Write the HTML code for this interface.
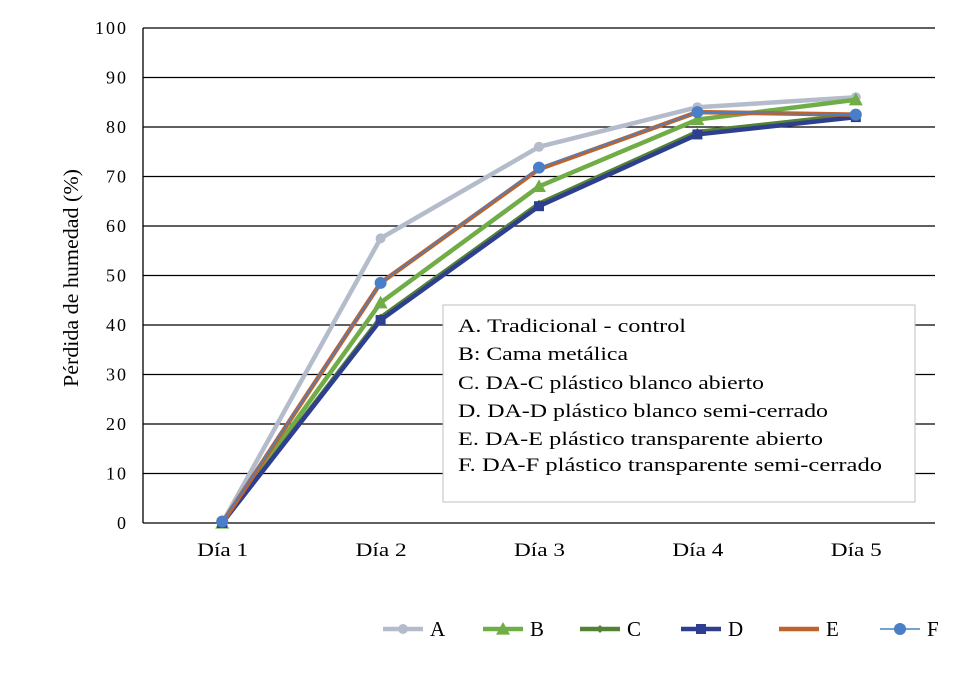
<!DOCTYPE html>
<html><head><meta charset="utf-8"><style>
body{margin:0;background:#fff}
svg text{font-family:"Liberation Serif",serif;fill:#000}
</style></head><body>
<svg id="chart" width="980" height="684" viewBox="0 0 980 684">
<g id="grid"></g>
<g id="yticks"></g>
<g id="xticks"></g>
<text transform="translate(78,278) rotate(-90)" text-anchor="middle" font-size="21" textLength="218" lengthAdjust="spacingAndGlyphs">Pérdida de humedad (%)</text>
<g id="series"></g>
<g>
<rect x="443" y="305" width="472" height="197" fill="#fff" stroke="#bfbfbf" stroke-width="1"/>
<text x="458" y="332" font-size="19" textLength="228" lengthAdjust="spacingAndGlyphs">A. Tradicional - control</text>
<text x="458" y="360" font-size="19" textLength="170" lengthAdjust="spacingAndGlyphs">B: Cama metálica</text>
<text x="458" y="389" font-size="19" textLength="306" lengthAdjust="spacingAndGlyphs">C. DA-C plástico blanco abierto</text>
<text x="458" y="417" font-size="19" textLength="370" lengthAdjust="spacingAndGlyphs">D. DA-D plástico blanco semi-cerrado</text>
<text x="458" y="445" font-size="19" textLength="365" lengthAdjust="spacingAndGlyphs">E. DA-E plástico transparente abierto</text>
<text x="458" y="471" font-size="19" textLength="424" lengthAdjust="spacingAndGlyphs">F. DA-F plástico transparente semi-cerrado</text>
</g>
<g id="legend"></g>
</svg>
<script>
const categories=["Día 1","Día 2","Día 3","Día 4","Día 5"];
const yTicks=[0,10,20,30,40,50,60,70,80,90,100];
const seriesNames=["A","B","C","D","E","F"];
const valuesA=[0,57.5,76,84,86];
const valuesB=[0,44.5,68,81.5,85.5];
const valuesC=[0,41.5,64.5,79,82.5];
const valuesD=[0,41,64,78.5,82];
const valuesE=[0,48.5,71.5,83,82.5];
const valuesF=[0.3,48.5,71.8,83,82.5];
const NS="http://www.w3.org/2000/svg";
const L=143,R=935,T=28,B=523;
const x=i=>L+(R-L)/categories.length*(i+0.5);
const y=v=>B-(B-T)*v/100;
function mk(tag,attrs,parent){const e=document.createElementNS(NS,tag);for(const k in attrs)e.setAttribute(k,attrs[k]);parent.appendChild(e);return e;}
const grid=document.getElementById('grid'),yt=document.getElementById('yticks'),xt=document.getElementById('xticks');
yTicks.forEach(v=>{
 const l=mk('line',{x1:L,x2:R,y1:y(v),y2:y(v),stroke:'#000','stroke-width':1.3},grid);
 
 
 const t=mk('text',{x:128,y:y(v)+6,'text-anchor':'end','font-size':18,'letter-spacing':'2'},yt);
 t.textContent=v;
 
 
});
const ax=mk('line',{x1:L,x2:L,y1:T,y2:B,stroke:'#000','stroke-width':1.3},grid);


categories.forEach((c,i)=>{
 const t=mk('text',{x:x(i)-25,y:556,'font-size':19,textLength:51,lengthAdjust:'spacingAndGlyphs'},xt);
 t.textContent=c;
 
 
});
const styles=[
 {c:'#b4bccb',w:4.5,m:'circle',r:5},
 {c:'#70ad47',w:4.5,m:'tri',r:7},
 {c:'#548235',w:4.5,m:'diamond',r:4},
 {c:'#2f3f8f',w:4.5,m:'square',r:5},
 {c:'#c0632a',w:4.5,m:'none',r:0},
 {c:'#4a7fc8',w:1.5,m:'circle',r:6}
];
const allVals=[valuesA,valuesB,valuesC,valuesD,valuesE,valuesF];
const sg=document.getElementById('series');
function marker(g,s,cx,cy){
 let e;
 if(s.m==='circle')e=mk('circle',{cx,cy,r:s.r,fill:s.c},g);
 else if(s.m==='square')e=mk('rect',{x:cx-s.r,y:cy-s.r,width:2*s.r,height:2*s.r,fill:s.c},g);
 else if(s.m==='tri')e=mk('polygon',{points:`${cx},${cy-s.r} ${cx+s.r},${cy+s.r*0.8} ${cx-s.r},${cy+s.r*0.8}`,fill:s.c},g);
 else if(s.m==='diamond')e=mk('polygon',{points:`${cx},${cy-s.r} ${cx+s.r},${cy} ${cx},${cy+s.r} ${cx-s.r},${cy}`,fill:s.c},g);
 if(e){}
}
[0,1,2,3,4,5].forEach(k=>{
 const s=styles[k],vals=allVals[k];
 const g=mk('g',{},sg);
 
 
 const p=mk('polyline',{points:vals.map((v,i)=>x(i)+','+y(v)).join(' '),fill:'none',stroke:s.c,'stroke-width':s.w,'stroke-linejoin':'round'},g);
 
 
 vals.forEach((v,i)=>marker(g,s,x(i),y(v)));
});
const lg=document.getElementById('legend');
const lx=[383,483,580,681,779,880];
seriesNames.forEach((n,k)=>{
 const s=styles[k];
 const g=mk('g',{},lg);
 
 
 mk('line',{x1:lx[k],x2:lx[k]+40,y1:629,y2:629,stroke:s.c,'stroke-width':s.w},g);
 marker(g,s,lx[k]+20,629);
 const t=mk('text',{x:lx[k]+47,y:636,'font-size':21},g);
 t.textContent=n;
});
</script>
</body></html>
